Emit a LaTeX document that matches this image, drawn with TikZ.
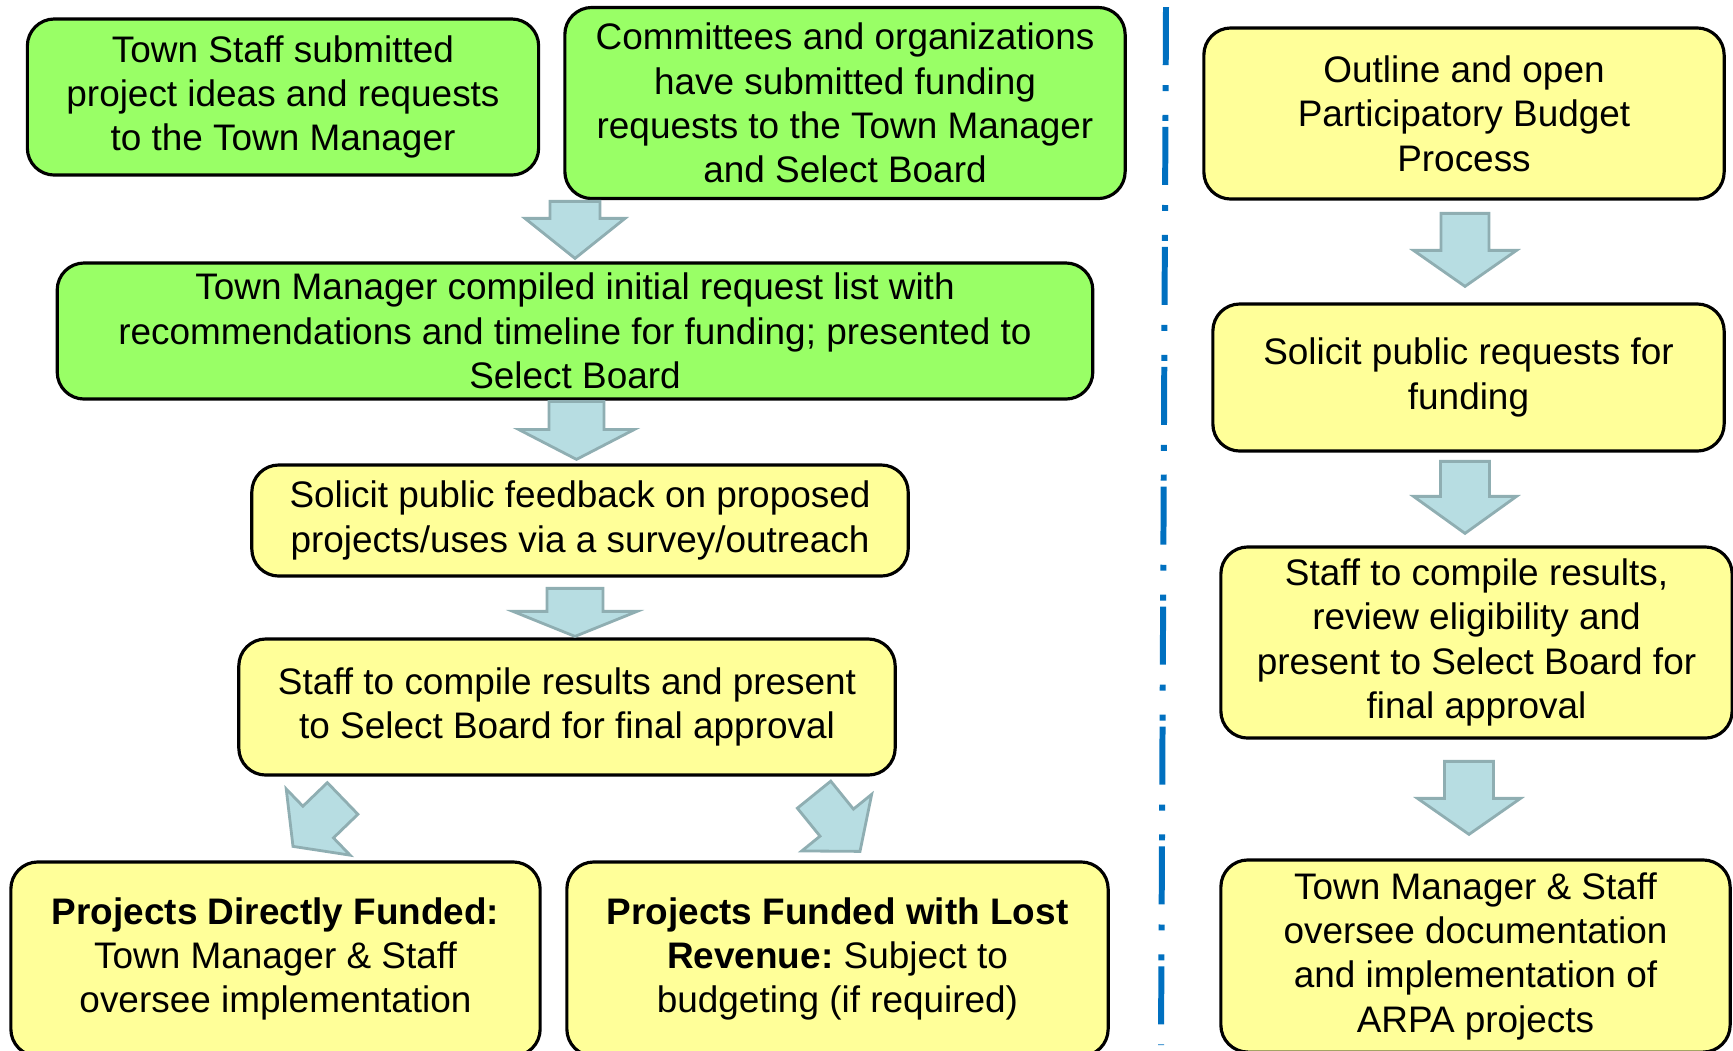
\documentclass[tikz,border=0pt]{standalone}
\usepackage{fontspec}
\setmainfont{Liberation Sans}
\usepackage{tikz}
\usetikzlibrary{calc}
\frenchspacing
\definecolor{boxgreen}{RGB}{153,255,102}
\definecolor{boxyellow}{RGB}{255,255,153}
\definecolor{arrfill}{RGB}{183,221,226}
\definecolor{arrline}{RGB}{143,174,178}
\definecolor{sepblue}{RGB}{0,112,192}
\newcommand{\boxfont}{\fontsize{10.5}{12.6}\selectfont}
\tikzset{box/.style={draw=black,line width=0.9pt,rounded corners=0.27cm,
			align=center,inner sep=0pt,font=\boxfont,
			execute at begin node={\rule{0pt}{9.6pt}}},
	greenbox/.style={box,fill=boxgreen},
	yellowbox/.style={box,fill=boxyellow},
	barr/.style={fill=arrfill,draw=arrline,line width=0.8pt,line join=miter}}
% block arrow: tip, rotation, head length, shaft length, head half width, shaft half width
\newcommand{\blockarr}[6]{\draw[barr,shift={(#1)},rotate=#2] (0,0) -- (#5,-#3) -- (#6,-#3) -- (#6,-#3-#4) -- (-#6,-#3-#4) -- (-#6,-#3) -- (-#5,-#3) -- cycle;}

\begin{document}
\begin{tikzpicture}[x=0.01cm,y=-0.01cm]
	\useasboundingbox (0,0) rectangle (1733,1050);
	\clip (0,0) rectangle (1733,1050);
	% left column
	\node[greenbox,minimum width=5.11cm,minimum height=1.56cm] (staff) at (283,97) {Town Staff submitted\\project ideas and requests\\to the Town Manager};
	\node[greenbox,minimum width=5.60cm,minimum height=1.91cm] (committees) at (845,103) {Committees and organizations\\have submitted funding\\requests to the Town Manager\\and Select Board};
	\node[greenbox,minimum width=10.35cm,minimum height=1.36cm] (manager) at (575,331) {Town Manager compiled initial request list with\\recommendations and timeline for funding; presented to\\Select Board};
	\node[yellowbox,minimum width=6.56cm,minimum height=1.11cm] (feedback) at (580,520.5) {Solicit public feedback on proposed\\projects/uses via a survey/outreach};
	\node[yellowbox,minimum width=6.56cm,minimum height=1.36cm] (compile) at (567,707) {Staff to compile results and present\\to Select Board for final approval};
	\node[yellowbox,minimum width=5.29cm,minimum height=1.94cm] (direct) at (275.5,959) {\textbf{Projects Directly Funded:}\\Town Manager \& Staff\\oversee implementation};
	\node[yellowbox,minimum width=5.41cm,minimum height=1.94cm] (lost) at (837.5,959) {\textbf{Projects Funded with Lost}\\\textbf{Revenue:} Subject to\\budgeting (if required)};
	% right column
	\node[yellowbox,minimum width=5.20cm,minimum height=1.71cm] (outline) at (1464,113.5) {Outline and open\\Participatory Budget\\Process};
	\node[yellowbox,minimum width=5.11cm,minimum height=1.47cm] (requests) at (1468.5,377.5) {Solicit public requests for\\funding};
	\node[yellowbox,minimum width=5.11cm,minimum height=1.91cm] (review) at (1476.5,642.5) {Staff to compile results,\\review eligibility and\\present to Select Board for\\final approval};
	\node[yellowbox,minimum width=5.09cm,minimum height=1.92cm] (oversee) at (1475.5,956) {Town Manager \& Staff\\oversee documentation\\and implementation of\\ARPA projects};
	% arrows
	\blockarr{$(manager.north)+(0,-3)$}{0}{40}{17}{50}{25}
	\blockarr{$(feedback.north)+(-3.5,-4)$}{0}{30}{28}{58}{27.5}
	\blockarr{$(compile.north)+(8,-1)$}{0}{25}{23}{62}{28}
	\blockarr{$(direct.north)+(17.5,-14)$}{-46}{35}{34}{46}{22}
	\blockarr{$(lost.north)+(22.5,-9)$}{39}{37}{36}{45}{21.5}
	\blockarr{$(requests.north)+(-3.5,-16)$}{0}{36}{37}{51.5}{24}
	\blockarr{$(review.north)+(-11.5,-12)$}{0}{37}{35}{51.5}{24.5}
	\blockarr{$(oversee.north)+(-6.5,-24)$}{0}{36}{37}{51.5}{24.5}
	% separator
	\draw[sepblue,line width=1.7pt,dash pattern=on 16.5pt off 5.7pt on 1.7pt off 6.8pt on 1.7pt off 1.7pt] (1166,7) -- (1161,1045);
\end{tikzpicture}
\end{document}
